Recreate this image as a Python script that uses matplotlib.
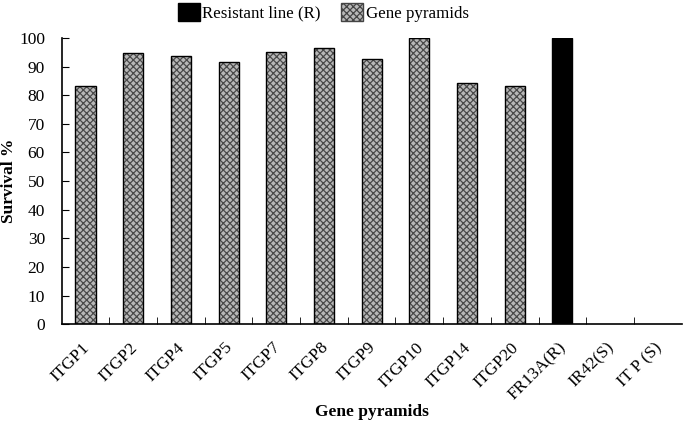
import matplotlib.pyplot as plt
import matplotlib.transforms as mtransforms
import numpy as np

plt.rcParams['font.family'] = ['Liberation Serif', 'DejaVu Serif']
plt.rcParams['hatch.linewidth'] = 0.9

# data
categories = ['ITGP1', 'ITGP2', 'ITGP4', 'ITGP5', 'ITGP7', 'ITGP8', 'ITGP9',
              'ITGP10', 'ITGP14', 'ITGP20', 'FR13A(R)', 'IR42(S)', 'IT P (S)']
survival = [83.2, 94.8, 93.7, 91.6, 95.1, 96.5, 92.7, 100, 84.3, 83.2, 100, 0, 0]
is_resistant = [False] * 10 + [True, False, False]

fig = plt.figure(figsize=(6.85, 4.21), dpi=100)
ax = fig.add_axes([0.09, 0.23, 0.905, 0.68])

x = np.arange(len(categories))
w = 0.42
pyr_idx = [i for i in range(len(categories)) if not is_resistant[i] and survival[i] > 0]
res_idx = [i for i in range(len(categories)) if is_resistant[i]]

# gene pyramid bars: gray checker hatch, then black outline on top
ax.bar(x[pyr_idx], [survival[i] for i in pyr_idx], w, color='#b8b8b8',
       hatch='xxxxx', edgecolor='#4a4a4a', linewidth=0)
ax.bar(x[pyr_idx], [survival[i] for i in pyr_idx], w, fill=False,
       edgecolor='black', linewidth=1.0)
ax.bar(x[res_idx], [survival[i] for i in res_idx], w, color='black',
       edgecolor='black', linewidth=1.0)

# legend proxies
h1 = plt.Rectangle((0, 0), 1, 1, facecolor='black', edgecolor='black')
h2 = plt.Rectangle((0, 0), 1, 1, facecolor='#b8b8b8', hatch='xxxxx',
                   edgecolor='#444444')
fig.legend([h1, h2], ['Resistant line (R)', 'Gene pyramids'], ncol=2,
           loc='center', bbox_to_anchor=(0.472, 0.971), frameon=False,
           fontsize=12.2, handlelength=1.3, handleheight=1.3,
           handletextpad=0.15, columnspacing=1.2, borderpad=0.2)

ax.set_xlim(-0.5, len(categories) - 0.5)
ax.set_ylim(0, 100)
ax.set_yticks(range(0, 101, 10))
ax.tick_params(axis='y', direction='in', length=5, labelsize=12.5, pad=12)
# x ticks sit between categories, pointing up
ax.set_xticks(x)
ax.set_xticklabels(categories, rotation=45, ha='right', rotation_mode='anchor',
                   fontsize=12.5)
ax.tick_params(axis='x', length=0, pad=11)
shift = mtransforms.ScaledTranslation(-4 / 100, 0, fig.dpi_scale_trans)
for lab in ax.get_xticklabels():
    lab.set_transform(lab.get_transform() + shift)
ax.set_xticks(np.arange(0.5, len(categories) - 0.5, 1), minor=True)
ax.tick_params(axis='x', which='minor', direction='in', length=5)

for s in ['top', 'right']:
    ax.spines[s].set_visible(False)
ax.spines['left'].set_linewidth(1.2)
ax.spines['bottom'].set_linewidth(1.2)

ax.set_ylabel('Survival %', fontsize=12.5, fontweight='bold')
ax.yaxis.set_label_coords(-0.072, 0.5)
ax.set_xlabel('Gene pyramids', fontsize=12.5, fontweight='bold')
ax.xaxis.set_label_coords(0.5, -0.28)

fig.savefig('out.png', dpi=100)
